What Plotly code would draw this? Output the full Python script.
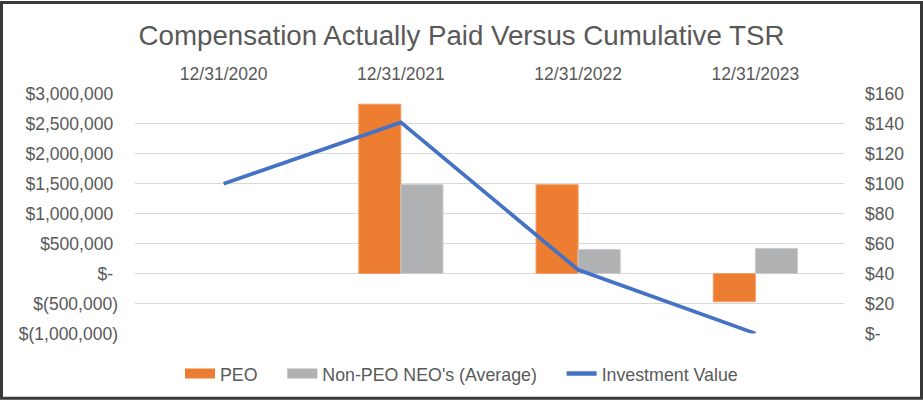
import plotly.graph_objects as go

categories = ["12/31/2020", "12/31/2021", "12/31/2022", "12/31/2023"]
peo = [None, 2830000, 1485000, -472000]
non_peo = [None, 1485000, 403000, 420000]
investment = [100, 141, 42.5, 0]

left_vals = [-1000000, -500000, 0, 500000, 1000000, 1500000, 2000000, 2500000, 3000000]
left_text = ["$(1,000,000)", "$(500,000)", "$-\u00a0", "$500,000\u00a0", "$1,000,000\u00a0",
             "$1,500,000\u00a0", "$2,000,000\u00a0", "$2,500,000\u00a0", "$3,000,000\u00a0"]
right_vals = [0, 20, 40, 60, 80, 100, 120, 140, 160]
right_text = ["$-", "$20", "$40", "$60", "$80", "$100", "$120", "$140", "$160"]

W, H = 923, 403
ml, mr, mt, mb = 135, 79, 94, 67
pw, ph = W - ml - mr, H - mt - mb

txt = "#595959"
font = "Liberation Sans, Arial, sans-serif"
orange, gray, blue = "#ED7D31", "#B0B1B3", "#4472C4"
pad = "\u00a0" * 4

fig = go.Figure()
fig.add_trace(go.Bar(x=categories, y=peo, name="PEO", showlegend=False,
                     marker=dict(color=orange, line=dict(width=1, color="#F4A06A"))))
fig.add_trace(go.Bar(x=categories, y=non_peo, name="Non-PEO NEO's (Average)", showlegend=False,
                     marker=dict(color=gray, line=dict(width=1, color="#CBCBCD"))))
fig.add_trace(go.Scatter(x=categories, y=investment, name="Investment Value", mode="lines",
                         line=dict(color=blue, width=3.7), yaxis="y2", showlegend=False))
# legend entries
fig.add_trace(go.Scatter(x=[None], y=[None], name="PEO" + pad, mode="lines",
                         line=dict(color=orange, width=10)))
fig.add_trace(go.Scatter(x=[None], y=[None], name="Non-PEO NEO's (Average)" + pad, mode="lines",
                         line=dict(color=gray, width=10)))
fig.add_trace(go.Scatter(x=[None], y=[None], name="Investment Value", mode="lines",
                         line=dict(color=blue, width=4.5), yaxis="y2"))

fig.update_layout(
    width=W, height=H,
    margin=dict(l=ml, r=mr, t=mt, b=mb),
    paper_bgcolor="white", plot_bgcolor="white",
    font=dict(family=font, size=17.5, color=txt),
    title=dict(text="Compensation Actually Paid Versus Cumulative TSR",
               x=0.5, xref="container", xanchor="center",
               y=1 - 35 / H, yref="container", yanchor="middle",
               font=dict(size=27.7, color=txt, family=font)),
    barmode="group", bargap=0.525, bargroupgap=0,
    xaxis=dict(type="category", side="top", showgrid=False, showline=False, zeroline=False,
               ticks="", ticklabelstandoff=10, tickfont=dict(size=17.5, color=txt)),
    yaxis=dict(range=[-1000000, 3000000], tickvals=left_vals, ticktext=left_text,
               showgrid=True, gridcolor="#D9D9D9", gridwidth=1.3, zeroline=False,
               showline=False, ticks="", ticklabelstandoff=16, tickfont=dict(size=17.5, color=txt)),
    yaxis2=dict(range=[0, 160], tickvals=right_vals, ticktext=right_text, overlaying="y",
                side="right", showgrid=False, zeroline=False, showline=False, ticks="",
                ticklabelstandoff=20, tickfont=dict(size=17.5, color=txt)),
    legend=dict(orientation="h", x=0.5, xref="container", xanchor="center",
                y=1 - 374 / H, yref="container", yanchor="middle",
                font=dict(size=17.8, color=txt), itemwidth=30, traceorder="normal"),
    showlegend=True,
)

fig.add_shape(type="rect", xref="paper", yref="paper",
              x0=(-ml + 1.5) / pw, x1=1 + (mr - 1.5) / pw,
              y0=(-mb + 1.5) / ph, y1=1 + (mt - 1.5) / ph,
              line=dict(color="#383838", width=3), fillcolor="rgba(0,0,0,0)", layer="above")

fig.write_html("out.html", config={"displayModeBar": False},
               post_script="document.body.style.margin='0';")
